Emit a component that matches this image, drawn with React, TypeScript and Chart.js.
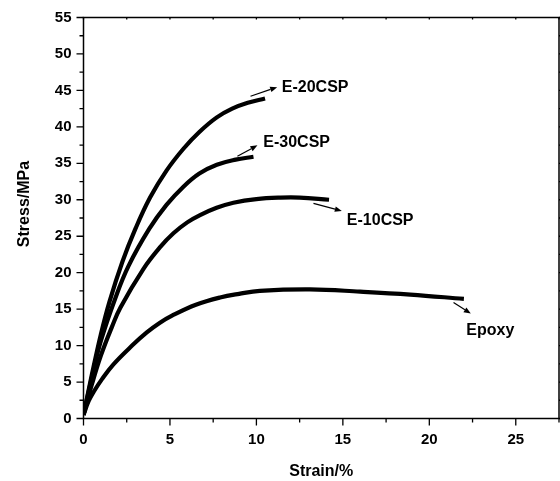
import React, { useEffect, useRef } from "react";
import { Chart, registerables } from "chart.js";

Chart.register(...registerables);

const FONT = "'Liberation Sans', Arial, sans-serif";

// Stress–strain curves (strain %, stress MPa)
const epoxyStrain = [0, 0.3, 0.6, 1.07, 1.72, 2.81, 3.66, 4.4, 5.12, 6.5, 7.9, 9.0, 10.2, 13.1, 16.0, 18.9, 22.0];
const epoxyStress = [0.5, 2.4, 3.7, 5.4, 7.4, 10.0, 11.8, 13.1, 14.1, 15.6, 16.6, 17.1, 17.5, 17.7, 17.4, 17.0, 16.4];

const e10Strain = [0, 0.5, 1.0, 1.65, 2.13, 3.46, 4.43, 5.2, 6.0, 6.74, 7.7, 8.67, 10.0, 11.4, 12.5, 14.2];
const e10Stress = [0.5, 4.8, 8.6, 12.6, 15.2, 20.5, 23.5, 25.4, 26.9, 27.9, 28.9, 29.6, 30.1, 30.3, 30.3, 30.0];

const e20Strain = [0, 0.5, 1.0, 1.5, 2.25, 3.0, 3.85, 4.8, 5.78, 6.7, 7.71, 8.6, 9.5, 10.5];
const e20Stress = [0.5, 6.2, 11.5, 16.0, 21.5, 26.0, 30.3, 34.0, 37.0, 39.3, 41.3, 42.5, 43.3, 43.9];

const e30Strain = [0, 0.5, 1.0, 1.84, 2.6, 3.8, 4.8, 5.78, 6.7, 7.71, 8.8, 9.83];
const e30Stress = [0.5, 5.8, 10.6, 16.5, 20.9, 26.0, 29.3, 31.8, 33.6, 34.8, 35.5, 35.9];

// Tick labels
const xTickLabels = [0, 5, 10, 15, 20, 25];
const yTickLabels = [0, 5, 10, 15, 20, 25, 30, 35, 40, 45, 50, 55];

// Curve annotations: label, text anchor (x, y), arrow from (x, y) to (x, y)
const annLabels = ["E-20CSP", "E-30CSP", "E-10CSP", "Epoxy"];
const annTextX = [11.47, 10.4, 15.23, 22.14];
const annTextY = [45.45, 37.9, 27.1, 12.1];
const annFromX = [9.66, 8.9, 13.3, 21.4];
const annFromY = [44.2, 35.96, 29.5, 15.9];
const annToX = [11.2, 10.06, 14.94, 22.4];
const annToY = [45.45, 37.47, 28.47, 14.4];

const toPoints = (xs: number[], ys: number[]) => xs.map((x, i) => ({ x, y: ys[i] }));

const framePlugin = {
  id: "frameAndExtras",
  afterDraw(chart: any) {
    const { ctx, chartArea: a, scales } = chart;
    const xs = scales.x;
    const ys = scales.y;
    ctx.save();
    ctx.strokeStyle = "#000";
    ctx.lineWidth = 1.5;
    ctx.strokeRect(a.left, a.top, a.right - a.left, a.bottom - a.top);

    // ticks
    ctx.lineWidth = 1.3;
    ctx.beginPath();
    xs.ticks.forEach((t: any) => {
      const px = xs.getPixelForValue(t.value);
      const major = Math.abs(t.value % 5) < 1e-6;
      ctx.moveTo(px, a.bottom);
      ctx.lineTo(px, a.bottom + (major ? 7 : 4));
      ctx.moveTo(px, a.top);
      ctx.lineTo(px, a.top + 2);
    });
    ys.ticks.forEach((t: any) => {
      const py = ys.getPixelForValue(t.value);
      const major = Math.abs(t.value % 5) < 1e-6;
      ctx.moveTo(a.left, py);
      ctx.lineTo(a.left - (major ? 7 : 4), py);
      ctx.moveTo(a.right, py);
      ctx.lineTo(a.right + 2, py);
    });
    ctx.stroke();

    // axis titles
    ctx.fillStyle = "#000";
    ctx.font = `bold 16px ${FONT}`;
    ctx.textAlign = "center";
    ctx.textBaseline = "middle";
    ctx.fillText("Strain/%", (a.left + a.right) / 2, 471.5);
    ctx.save();
    ctx.translate(25, 204);
    ctx.rotate(-Math.PI / 2);
    ctx.fillText("Stress/MPa", 0, 0);
    ctx.restore();

    // annotations
    ctx.textAlign = "left";
    for (let i = 0; i < annLabels.length; i++) {
      const tx = xs.getPixelForValue(annTextX[i]);
      const ty = ys.getPixelForValue(annTextY[i]);
      ctx.fillText(annLabels[i], tx, ty);
      const x1 = xs.getPixelForValue(annFromX[i]);
      const y1 = ys.getPixelForValue(annFromY[i]);
      const x2 = xs.getPixelForValue(annToX[i]);
      const y2 = ys.getPixelForValue(annToY[i]);
      const ang = Math.atan2(y2 - y1, x2 - x1);
      const hl = 7;
      const hw = 2.8;
      const bx = x2 - hl * Math.cos(ang);
      const by = y2 - hl * Math.sin(ang);
      ctx.lineWidth = 1.2;
      ctx.beginPath();
      ctx.moveTo(x1, y1);
      ctx.lineTo(bx, by);
      ctx.stroke();
      ctx.beginPath();
      ctx.moveTo(x2, y2);
      ctx.lineTo(bx + hw * Math.sin(ang), by - hw * Math.cos(ang));
      ctx.lineTo(bx - hw * Math.sin(ang), by + hw * Math.cos(ang));
      ctx.closePath();
      ctx.fill();
    }
    ctx.restore();
  },
};

export default function App() {
  const ref = useRef<HTMLCanvasElement | null>(null);
  useEffect(() => {
    if (!ref.current) return;
    const mk = (label: string, xs: number[], ys: number[]) => ({
      label,
      data: toPoints(xs, ys),
      borderColor: "#000",
      backgroundColor: "#000",
      borderWidth: 4.2,
      pointRadius: 0,
      fill: false,
      tension: 0.4,
      borderCapStyle: "butt" as const,
    });
    const chart = new Chart(ref.current, {
      type: "line",
      data: {
        datasets: [
          mk("Epoxy", epoxyStrain, epoxyStress),
          mk("E-10CSP", e10Strain, e10Stress),
          mk("E-20CSP", e20Strain, e20Stress),
          mk("E-30CSP", e30Strain, e30Stress),
        ],
      },
      options: {
        animation: false,
        responsive: false,
        devicePixelRatio: 1,
        layout: { padding: { left: 0, top: 17.5, right: 1, bottom: 0 } },
        plugins: { legend: { display: false }, tooltip: { enabled: false } },
        scales: {
          x: {
            type: "linear",
            min: 0,
            max: 27.5,
            grid: { display: false, drawTicks: false },
            border: { display: false },
            ticks: {
              stepSize: 2.5,
              autoSkip: false,
              maxRotation: 0,
              padding: 12,
              color: "#000",
              font: { family: FONT, size: 15, weight: "bold" },
              callback: (v: any) => (xTickLabels.includes(Number(v)) ? String(v) : ""),
            },
            afterFit: (s: any) => {
              s.height = 62.5;
              s.paddingLeft = 0;
              s.paddingRight = 0;
            },
          },
          y: {
            type: "linear",
            min: 0,
            max: 55,
            grid: { display: false, drawTicks: false },
            border: { display: false },
            ticks: {
              stepSize: 2.5,
              autoSkip: false,
              padding: 12,
              color: "#000",
              font: { family: FONT, size: 15, weight: "bold" },
              callback: (v: any) => (yTickLabels.includes(Number(v)) ? String(v) : ""),
            },
            afterFit: (s: any) => {
              s.width = 83.5;
              s.paddingTop = 0;
              s.paddingBottom = 0;
            },
          },
        },
      },
      plugins: [framePlugin],
    });
    return () => chart.destroy();
  }, []);
  return (
    <div style={{ position: "absolute", left: 0, top: 0, width: 560, height: 481, background: "#fff" }}>
      <canvas ref={ref} width={560} height={481} style={{ display: "block" }} />
    </div>
  );
}
